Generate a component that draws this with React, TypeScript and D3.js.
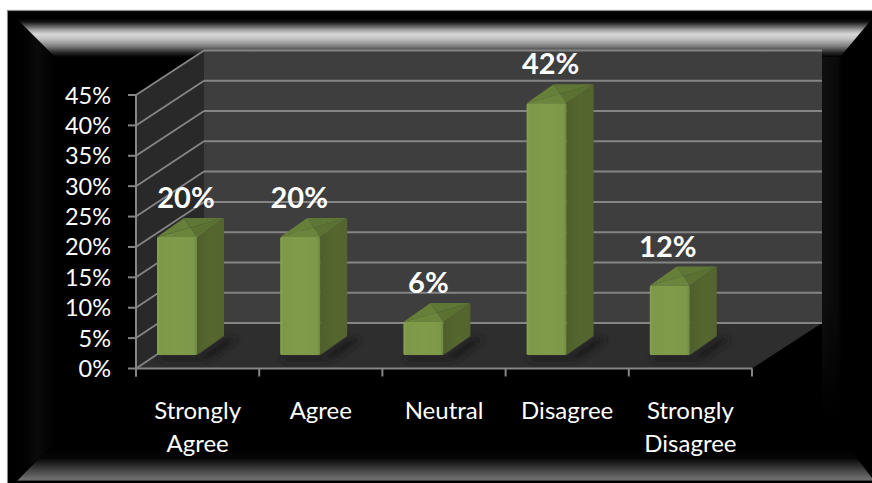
import React from "react";
import * as d3 from "d3";

const categories = [["Strongly", "Agree"], ["Agree"], ["Neutral"], ["Disagree"], ["Strongly", "Disagree"]];
const shares = [20, 20, 6, 42, 12];
const tickValues = [0, 5, 10, 15, 20, 25, 30, 35, 40, 45];
const labelNudge = [9, -1, 5, 4, -2];

const W = 872;
const H = 483;
const FONT = "Lato, 'Open Sans', sans-serif";
const GRID = "#858585";

// Oblique projection of the plot box: a front plane and a back wall.
const front = { x0: 136, x1: 752, y0: 368.5, y1: 95 };
const back = { x0: 204, x1: 822, y0: 323, y1: 50.5 };
const yFront = d3.scaleLinear().domain([0, 45]).range([front.y0, front.y1]);
const yBack = d3.scaleLinear().domain([0, 45]).range([back.y0, back.y1]);
const xBand = d3.scaleBand<number>().domain(d3.range(categories.length)).range([front.x0, front.x1]);

// Bars stand part way into the floor, so their zero sits between both planes.
const yBar = d3.scaleLinear().domain([0, 45]).range([358.5, 358.5 - 45 * 6.08]);
const barFoot = 355;
const barWidth = 40;
const depth = { dx: 27, dy: -19 };

const pts = (list: number[][]) => list.map((p) => p.join(",")).join(" ");

function Frame() {
  return (
    <g>
      <rect x={7.5} y={10.5} width={W} height={H} fill="#000" stroke="#8a8a8a" strokeWidth={1.2} />
      <polygon points={pts([[8, 11], [55, 57], [55, 445], [8, 483]])} fill="url(#leftBevel)" />
      <rect x={822} y={57} width={20} height={390} fill="url(#rightBevel)" />
      <rect x={822} y={300} width={20} height={147} fill="url(#rightBevelFade)" />
      <polygon points={pts([[17, 19], [W, 19], [840, 57], [55, 57]])} fill="url(#topBevel)" />
      <polygon points={pts([[17, 481], [48, 449], [850, 449], [W, 478], [W, 481]])} fill="url(#bottomBevel)" />
    </g>
  );
}

function Bar({ index }: { index: number }) {
  const x = (xBand(index) ?? 0) + 21;
  const top = yBar(shares[index]);
  const r = x + barWidth;
  const { dx, dy } = depth;
  const cx = x + (barWidth + dx) / 2;
  const cy = top + dy / 2;
  return (
    <g>
      <polygon
        points={pts([[x, barFoot + 2], [r + 2, barFoot + 2], [r + dx + 2, barFoot + dy + 2], [r + dx + 14, barFoot + dy + 3], [r + 16, barFoot + 3], [r + 4, barFoot + 6], [x + 4, barFoot + 6]])}
        fill="#1c1c1c"
        filter="url(#floorShadow)"
      />
      <polygon points={pts([[r, top], [r + dx, top + dy], [r + dx, barFoot + dy], [r, barFoot]])} fill="url(#barSide)" />
      <polygon points={pts([[x, top], [x + dx, top + dy], [cx, cy]])} fill="#667f39" />
      <polygon points={pts([[x + dx, top + dy], [r + dx, top + dy], [cx, cy]])} fill="#5f7735" />
      <polygon points={pts([[r + dx, top + dy], [r, top], [cx, cy]])} fill="#5b7132" />
      <polygon points={pts([[x, top], [r, top], [cx, cy]])} fill="#6b863c" />
      <rect x={x} y={top} width={barWidth} height={barFoot - top} rx={1.5} fill="url(#barFront)" />
    </g>
  );
}

export default function App() {
  return (
    <svg
      width={W}
      height={H}
      viewBox={`0 0 ${W} ${H}`}
      style={{ position: "absolute", left: 0, top: 0, display: "block", background: "#fff" }}
    >
      <defs>
        <linearGradient id="topBevel" gradientUnits="userSpaceOnUse" x1={0} x2={0} y1={19} y2={57}>
          <stop offset="0" stopColor="#000" />
          <stop offset="0.08" stopColor="#151515" />
          <stop offset="0.3" stopColor="#a8a8a8" />
          <stop offset="0.4" stopColor="#d8d8d8" />
          <stop offset="0.52" stopColor="#c4c4c4" />
          <stop offset="0.72" stopColor="#7c7c7c" />
          <stop offset="0.88" stopColor="#2a2a2a" />
          <stop offset="1" stopColor="#000" />
        </linearGradient>
        <linearGradient id="bottomBevel" gradientUnits="userSpaceOnUse" x1={0} x2={0} y1={449} y2={481}>
          <stop offset="0" stopColor="#000" />
          <stop offset="0.3" stopColor="#070707" />
          <stop offset="0.7" stopColor="#4a4a4a" />
          <stop offset="0.95" stopColor="#707070" />
          <stop offset="1" stopColor="#2e2e2e" />
        </linearGradient>
        <linearGradient id="leftBevel" gradientUnits="userSpaceOnUse" x1={8} x2={55} y1={0} y2={0}>
          <stop offset="0" stopColor="#000" />
          <stop offset="0.4" stopColor="#020202" />
          <stop offset="0.6" stopColor="#0b0b0b" />
          <stop offset="1" stopColor="#000" />
        </linearGradient>
        <linearGradient id="rightBevel" x1="0" x2="1" y1="0" y2="0">
          <stop offset="0" stopColor="#0f0f0f" />
          <stop offset="0.8" stopColor="#090909" />
          <stop offset="1" stopColor="#000" />
        </linearGradient>
        <linearGradient id="rightBevelFade" x1="0" x2="0" y1="0" y2="1">
          <stop offset="0" stopColor="#000" stopOpacity="0" />
          <stop offset="0.8" stopColor="#000" stopOpacity="1" />
        </linearGradient>
        <linearGradient id="barFront" x1="0" x2="1" y1="0" y2="0">
          <stop offset="0" stopColor="#86a24f" />
          <stop offset="0.08" stopColor="#7d9848" />
          <stop offset="0.5" stopColor="#809b4a" />
          <stop offset="0.92" stopColor="#7d9848" />
          <stop offset="1" stopColor="#6c8640" />
        </linearGradient>
        <linearGradient id="barSide" x1="0" x2="1" y1="0" y2="0">
          <stop offset="0" stopColor="#4f5f2c" />
          <stop offset="0.5" stopColor="#55662f" />
          <stop offset="1" stopColor="#53642e" />
        </linearGradient>
        <filter id="floorShadow" x="-30%" y="-60%" width="160%" height="220%">
          <feGaussianBlur stdDeviation="3" />
        </filter>
      </defs>

      <Frame />

      {/* Walls and floor */}
      <rect x={back.x0} y={back.y1} width={back.x1 - back.x0} height={back.y0 - back.y1} fill="#3e3e3e" />
      <polygon
        points={pts([[front.x0, front.y1], [back.x0, back.y1], [back.x0, back.y0], [front.x0, front.y0]])}
        fill="#292929"
      />
      <polygon
        points={pts([[front.x0, front.y0], [back.x0, back.y0], [back.x1, back.y0], [front.x1, front.y0]])}
        fill="#2e2e2e"
      />

      {/* Gridlines fold from the side wall onto the back wall */}
      {tickValues.map((v) => (
        <g key={v}>
          <line x1={front.x0} x2={back.x0} y1={yFront(v)} y2={yBack(v)} stroke={GRID} strokeWidth={1.8} />
          <line x1={back.x0} x2={back.x1} y1={yBack(v)} y2={yBack(v)} stroke={GRID} strokeWidth={2} />
        </g>
      ))}

      {/* Value axis */}
      <line x1={front.x0} x2={front.x0} y1={front.y1} y2={front.y0 + 8} stroke={GRID} strokeWidth={2} />
      {tickValues.map((v) => (
        <g key={v}>
          <line x1={128} x2={front.x0} y1={yFront(v)} y2={yFront(v)} stroke={GRID} strokeWidth={2} />
          <text x={111} y={yFront(v) + 8.5} textAnchor="end" fill="#fff" fontFamily={FONT} fontSize={23.5}>
            {v}%
          </text>
        </g>
      ))}

      {/* Category axis */}
      <line x1={front.x0} x2={front.x1} y1={front.y0} y2={front.y0} stroke={GRID} strokeWidth={2} />
      {d3.range(categories.length + 1).map((i) => {
        const x = front.x0 + i * xBand.step();
        return <line key={i} x1={x} x2={x} y1={front.y0} y2={front.y0 + 8} stroke={GRID} strokeWidth={2} />;
      })}
      {categories.map((lines, i) => (
        <text key={i} textAnchor="middle" fill="#fff" fontFamily={FONT} fontSize={24}>
          {lines.map((line, k) => (
            <tspan key={k} x={(xBand(i) ?? 0) + xBand.bandwidth() / 2} y={419 + k * 32.5}>
              {line}
            </tspan>
          ))}
        </text>
      ))}

      {shares.map((_, i) => (
        <Bar key={i} index={i} />
      ))}

      {shares.map((v, i) => (
        <text
          key={i}
          x={(xBand(i) ?? 0) + 21 + barWidth / 2 + labelNudge[i]}
          y={yBar(v) - 29}
          textAnchor="middle"
          fill="#fff"
          fontFamily={FONT}
          fontWeight={700}
          fontSize={29}
        >
          {v}%
        </text>
      ))}
    </svg>
  );
}
